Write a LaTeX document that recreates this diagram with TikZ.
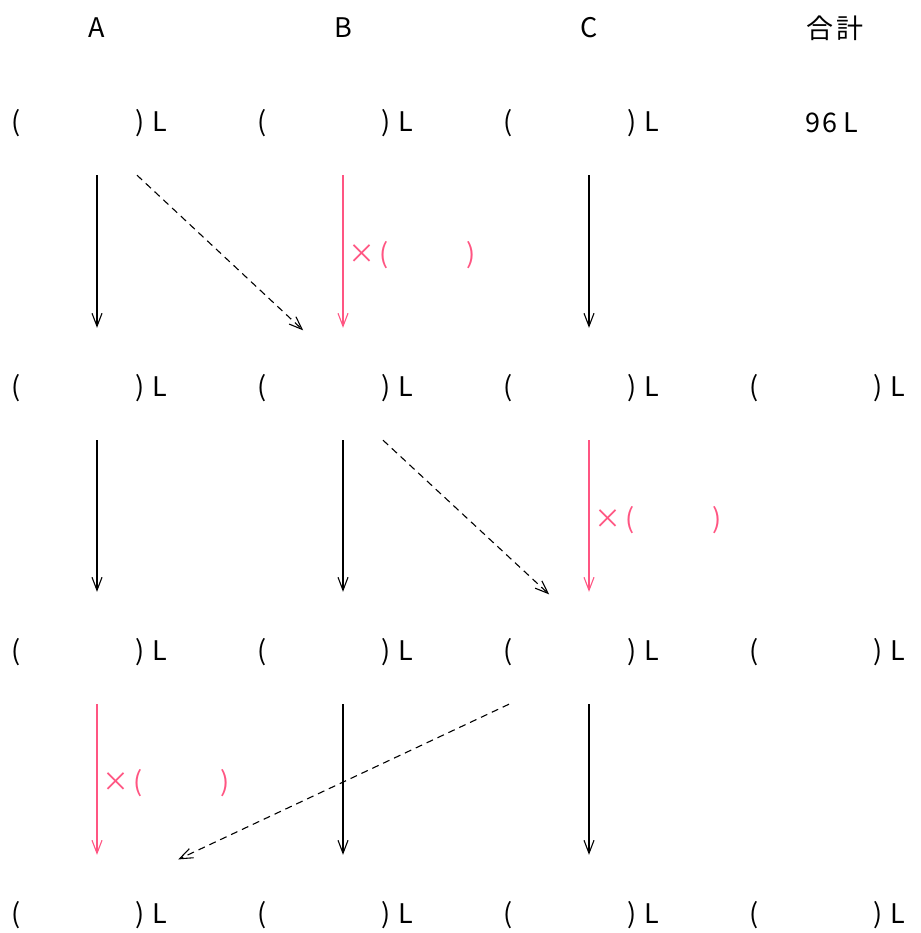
\documentclass[tikz,border=0pt]{standalone}
\usepackage{fontspec}
\setmainfont{Noto Sans CJK JP}
\usetikzlibrary{arrows.meta,calc}
\definecolor{markpink}{RGB}{255,85,130}

\begin{document}
\begin{tikzpicture}[x=1pt, y=-1pt, font=\fontsize{27}{30}\selectfont]
\tikzstyle{head} = [inner sep=0pt]
\tikzstyle{amount} = [inner sep=0pt, minimum height=104pt, anchor=west]
\tikzstyle{flow} = [line width=1.1pt, -{Straight Barb[length=13pt,width=10pt]}, shorten >=8pt]
\tikzstyle{move} = [flow, dash pattern=on 7pt off 5pt]
\tikzstyle{times} = [text=markpink, inner sep=0pt, anchor=west, xshift=5pt]

\useasboundingbox (0,0) rectangle (920,933);

% headings
\node (HeadA) [head] at (97,28) {A};
\node (HeadB) [head] at (343,28) {B};
\node (HeadC) [head] at (589,28) {C};
\node (HeadTotal) [head] at (835,28) {合\hspace{3pt}計};

% amounts
\node (A1) [amount] at (11,123) {(\hspace{115pt})\hspace{8pt}L};
\node (B1) [amount] at (257,123) {(\hspace{115pt})\hspace{8pt}L};
\node (C1) [amount] at (503,123) {(\hspace{115pt})\hspace{8pt}L};
\node (Total1) [head] at (832,123) {9\hspace{2pt}6\hspace{6pt}L};

\node (A2) [amount] at (11,388) {(\hspace{115pt})\hspace{8pt}L};
\node (B2) [amount] at (257,388) {(\hspace{115pt})\hspace{8pt}L};
\node (C2) [amount] at (503,388) {(\hspace{115pt})\hspace{8pt}L};
\node (Total2) [amount] at (749,388) {(\hspace{115pt})\hspace{8pt}L};

\node (A3) [amount] at (11,652) {(\hspace{115pt})\hspace{8pt}L};
\node (B3) [amount] at (257,652) {(\hspace{115pt})\hspace{8pt}L};
\node (C3) [amount] at (503,652) {(\hspace{115pt})\hspace{8pt}L};
\node (Total3) [amount] at (749,652) {(\hspace{115pt})\hspace{8pt}L};

\node (A4) [amount] at (11,915) {(\hspace{115pt})\hspace{8pt}L};
\node (B4) [amount] at (257,915) {(\hspace{115pt})\hspace{8pt}L};
\node (C4) [amount] at (503,915) {(\hspace{115pt})\hspace{8pt}L};
\node (Total4) [amount] at (749,915) {(\hspace{115pt})\hspace{8pt}L};

% first step
\draw [flow] (A1.south -| HeadA) -- (A2.north -| HeadA);
\draw [flow, draw=markpink] (B1.south -| HeadB) -- node (TimesB) [times, midway] {×\hspace{4pt}(\hspace{78pt})} (B2.north -| HeadB);
\draw [flow] (C1.south -| HeadC) -- (C2.north -| HeadC);
\draw [move] ($(A1.south -| HeadA)+(40,0)$) -- ($(B2.north -| HeadB)+(-34,0)$);

% second step
\draw [flow] (A2.south -| HeadA) -- (A3.north -| HeadA);
\draw [flow] (B2.south -| HeadB) -- (B3.north -| HeadB);
\draw [flow, draw=markpink] (C2.south -| HeadC) -- node (TimesC) [times, midway] {×\hspace{4pt}(\hspace{78pt})} (C3.north -| HeadC);
\draw [move] ($(B2.south -| HeadB)+(40,0)$) -- ($(C3.north -| HeadC)+(-34,0)$);

% third step
\draw [flow, draw=markpink] (A3.south -| HeadA) -- node (TimesA) [times, midway] {×\hspace{4pt}(\hspace{78pt})} (A4.north -| HeadA);
\draw [flow] (B3.south -| HeadB) -- (B4.north -| HeadB);
\draw [flow] (C3.south -| HeadC) -- (C4.north -| HeadC);
\draw [move] ($(C3.south -| HeadC)+(-80,0)$) -- ($(A4.north -| HeadA)+(74,0)$);
\end{tikzpicture}
\end{document}
